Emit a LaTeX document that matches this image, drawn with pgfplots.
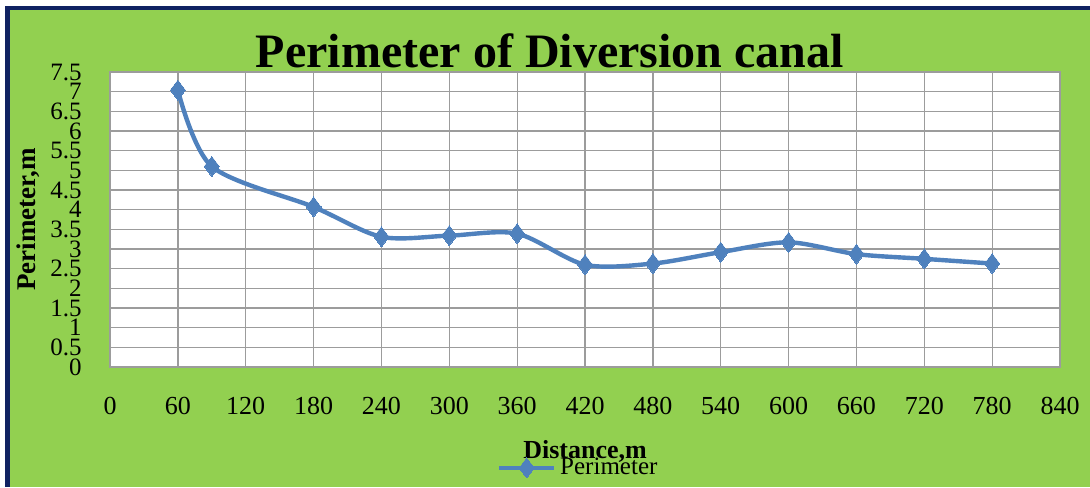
\documentclass[border=0pt]{standalone}
\usepackage{fontspec}
\setmainfont{Liberation Serif}
\usepackage{pgfplots}
\pgfplotsset{compat=1.18}
\definecolor{bggreen}{HTML}{92D050}
\definecolor{navy}{HTML}{102262}
\definecolor{serblue}{HTML}{4F81BD}
\definecolor{gridgray}{HTML}{9C9C9C}
\begin{document}
\begin{tikzpicture}
\useasboundingbox (0,0) rectangle (545pt,243.5pt);
\fill[white] (0,0) rectangle (545pt,243.5pt);
\fill[navy] (2.5pt,0) rectangle (545pt,240.5pt);
\fill[bggreen] (5pt,0) rectangle (545pt,238.5pt);
\begin{axis}[
  at={(55pt,60pt)}, anchor=south west,
  scale only axis, width=475pt, height=147.5pt,
  xmin=0, xmax=840, ymin=0, ymax=7.5,
  xtick={0,60,...,840}, ytick={0,0.5,...,7.5},
  yticklabels={0,0.5,1,1.5,2,2.5,3,3.5,4,4.5,5,5.5,6,6.5,7,7.5},
  grid=major, major grid style={gridgray, line width=0.65pt},
  axis line style={gridgray, line width=0.65pt},
  major tick length=0pt,
  axis background/.style={fill=white},
  /pgf/number format/assume math mode=true,
  xticklabel style={font=\fontsize{13}{13}\selectfont, anchor=north, inner sep=0pt, yshift=-15pt},
  yticklabel style={font=\fontsize{12.5}{12.5}\selectfont, anchor=east, inner sep=0pt, xshift=-14pt},
  title={Perimeter of Diversion canal},
  title style={font=\fontsize{24}{24}\bfseries, at={(axis description cs:0.463,0.975)}, anchor=base, inner sep=0pt},
  xlabel={Distance,m},
  xlabel style={font=\fontsize{13}{13}\selectfont\bfseries, at={(axis description cs:0.5,-0.288)}, anchor=center, inner sep=0pt},
  ylabel={Perimeter,m},
  ylabel style={font=\fontsize{13.5}{13.5}\selectfont\bfseries, at={(axis description cs:-0.0863,0.5)}, anchor=center, inner sep=0pt},
  legend style={at={(axis description cs:0.494,-0.342)}, anchor=center, draw=none, fill=none,
    font=\fontsize{12.5}{12.5}\selectfont, inner sep=0pt},
  legend image code/.code={\draw[#1, mark repeat=2, mark phase=2] plot coordinates {(0cm,0cm) (0.48cm,0cm) (0.96cm,0cm)};},
]
\addplot[serblue, line width=2.2pt, smooth, tension=0.5, mark=diamond*, mark size=5pt, mark options={fill=serblue, draw=serblue, line width=0pt}]
coordinates {
(60,7.04) (90,5.10) (180,4.07) (240,3.31) (300,3.34) (360,3.39) (420,2.60)
(480,2.63) (540,2.92) (600,3.17) (660,2.87) (720,2.75) (780,2.63)
};
\addlegendentry{Perimeter}
\end{axis}
\end{tikzpicture}
\end{document}
